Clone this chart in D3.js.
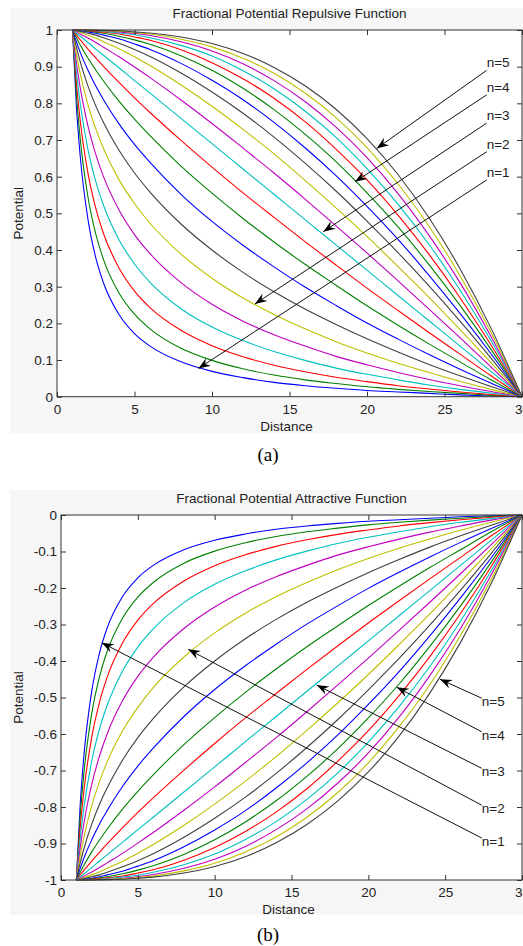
<!DOCTYPE html>
<html>
<head>
<meta charset="utf-8">
<script src="https://cdn.jsdelivr.net/npm/d3@7"></script>
<style>
  body { margin: 0; background: #fff; }
  .chart text { font-family: "Liberation Sans", Arial, sans-serif; fill: #222; }
</style>
</head>
<body>
<div class="chart"></div>
<script>
const distance = [1, 1.25, 1.5, 2, 2.5, 3, 4, 5, 6, 8, 10, 12, 14, 16, 18, 20, 22, 24, 26, 28, 30];

// fractional order of each curve (n = 1 ... 5, step 0.2)
const orders = [1, 1.2, 1.4, 1.6, 1.8, 2, 2.2, 2.4, 2.6, 2.8, 3, 3.2, 3.4, 3.6, 3.8, 4, 4.2, 4.4, 4.6, 4.8, 5];

// repulsive potential, one row per order
const potential = [
  [1, .793, .655, .483, .379, .310, .224, .172, .138, .095, .069, .052, .039, .030, .023, .017, .013, .009, .005, .002, 0],
  [1, .825, .703, .544, .444, .374, .283, .225, .185, .132, .099, .076, .059, .046, .036, .027, .020, .014, .009, .004, 0],
  [1, .856, .752, .609, .514, .445, .351, .288, .243, .181, .139, .109, .086, .068, .053, .041, .030, .021, .013, .006, 0],
  [1, .885, .799, .674, .587, .522, .428, .362, .312, .240, .190, .153, .123, .099, .078, .061, .046, .032, .020, .010, 0],
  [1, .912, .842, .738, .661, .600, .509, .442, .390, .311, .252, .206, .169, .138, .110, .087, .066, .047, .030, .014, 0],
  [1, .934, .881, .796, .731, .677, .592, .527, .473, .389, .323, .269, .224, .185, .150, .119, .091, .066, .042, .020, 0],
  [1, .953, .913, .847, .793, .748, .672, .610, .558, .471, .400, .339, .286, .239, .197, .158, .122, .088, .057, .028, 0],
  [1, .968, .939, .890, .847, .810, .744, .688, .639, .552, .478, .413, .354, .299, .249, .201, .157, .115, .075, .037, 0],
  [1, .979, .959, .923, .891, .861, .806, .757, .712, .629, .555, .486, .422, .361, .304, .248, .195, .144, .095, .046, 0],
  [1, .986, .973, .948, .924, .901, .857, .815, .775, .699, .626, .556, .489, .423, .359, .296, .235, .175, .116, .057, 0],
  [1, .991, .983, .966, .948, .931, .897, .862, .828, .759, .690, .621, .552, .483, .414, .345, .276, .207, .138, .069, 0],
  [1, .995, .989, .978, .966, .953, .927, .899, .870, .809, .745, .678, .610, .539, .466, .392, .316, .239, .161, .081, 0],
  [1, .997, .993, .986, .978, .968, .949, .927, .903, .850, .792, .729, .662, .590, .515, .437, .355, .271, .183, .093, 0],
  [1, .998, .996, .991, .986, .979, .964, .947, .928, .883, .831, .773, .708, .637, .561, .479, .393, .302, .206, .105, 0],
  [1, .999, .998, .995, .991, .986, .976, .962, .947, .909, .863, .810, .748, .679, .603, .519, .429, .331, .227, .117, 0],
  [1, .999, .999, .997, .994, .991, .983, .973, .961, .930, .890, .841, .783, .716, .641, .556, .463, .360, .249, .129, 0],
  [1, 1, .999, .998, .996, .994, .989, .981, .972, .946, .911, .867, .814, .750, .675, .591, .495, .388, .270, .141, 0],
  [1, 1, .999, .999, .998, .996, .992, .987, .979, .958, .929, .889, .840, .779, .707, .622, .525, .415, .291, .153, 0],
  [1, 1, 1, .999, .999, .998, .995, .991, .985, .968, .943, .908, .862, .805, .735, .652, .554, .440, .311, .164, 0],
  [1, 1, 1, 1, .999, .998, .997, .993, .989, .975, .954, .923, .882, .828, .761, .679, .580, .465, .330, .176, 0],
  [1, 1, 1, 1, .999, .999, .998, .995, .992, .981, .963, .936, .898, .848, .784, .704, .606, .488, .349, .187, 0]
];

// attractive panel is the same family mirrored below zero
const attractive = potential.map(row => row.map(v => -v));

const lineColors = ["#0000ff", "#008000", "#ff0000", "#00bfbf", "#bf00bf", "#bfbf00", "#404040"];

const xTicks = [0, 5, 10, 15, 20, 25, 30];
const xTickLabels = ["0", "5", "10", "15", "20", "25", "30"];
const yTicksRep = [0, 0.1, 0.2, 0.3, 0.4, 0.5, 0.6, 0.7, 0.8, 0.9, 1];
const yTickLabelsRep = ["0", "0.1", "0.2", "0.3", "0.4", "0.5", "0.6", "0.7", "0.8", "0.9", "1"];
const yTicksAtt = [0, -0.1, -0.2, -0.3, -0.4, -0.5, -0.6, -0.7, -0.8, -0.9, -1];
const yTickLabelsAtt = ["0", "-0.1", "-0.2", "-0.3", "-0.4", "-0.5", "-0.6", "-0.7", "-0.8", "-0.9", "-1"];

// arrow annotations, [distance, potential] for tail and tip
const arrowsRep = [
  {label: "n=5", from: [27.72, 0.890], to: [20.63, 0.677]},
  {label: "n=4", from: [27.72, 0.823], to: [19.23, 0.586]},
  {label: "n=3", from: [27.72, 0.746], to: [17.18, 0.450]},
  {label: "n=2", from: [27.72, 0.668], to: [12.77, 0.253]},
  {label: "n=1", from: [27.72, 0.591], to: [9.12, 0.077]}
];
const arrowsAtt = [
  {label: "n=5", from: [27.38, -0.502], to: [24.66, -0.450]},
  {label: "n=4", from: [27.38, -0.594], to: [21.85, -0.472]},
  {label: "n=3", from: [27.38, -0.694], to: [16.64, -0.466]},
  {label: "n=2", from: [27.38, -0.795], to: [8.28, -0.368]},
  {label: "n=1", from: [27.38, -0.885], to: [2.65, -0.350]}
];

const W = 523, H = 946;

let svg = d3.select(".chart").append("svg")
  .attr("width", W)
  .attr("height", H);

const panels = [
  {left: 57, right: 522, top: 30, bottom: 396.7, domain: [0, 1], values: potential,
   yTicks: yTicksRep, yLabels: yTickLabelsRep, arrows: arrowsRep, labelDy: -3,
   title: "Fractional Potential Repulsive Function", caption: "(a)",
   figTop: 8, figBottom: 433, capY: 461},
  {left: 61, right: 522, top: 515, bottom: 880, domain: [-1, 0], values: attractive,
   yTicks: yTicksAtt, yLabels: yTickLabelsAtt, arrows: arrowsAtt, labelDy: 8,
   title: "Fractional Potential Attractive Function", caption: "(b)",
   figTop: 490, figBottom: 915, capY: 941}
];

function drawPanel(p) {
  const xScale = d3.scaleLinear().domain([0, 30]).range([p.left, p.right]);
  const yScale = d3.scaleLinear().domain(p.domain).range([p.bottom, p.top]);

  // figure background
  svg.append("rect")
    .attr("x", 10).attr("y", p.figTop)
    .attr("width", W - 10).attr("height", p.figBottom - p.figTop)
    .attr("fill", "#f6f6f6");

  svg.append("rect")
    .attr("x", p.left).attr("y", p.top)
    .attr("width", p.right - p.left).attr("height", p.bottom - p.top)
    .attr("fill", "#fff");

  const line = d3.line()
    .x((d, i) => xScale(distance[i]))
    .y(d => yScale(d))
    .curve(d3.curveMonotoneX);

  svg.append("g")
    .selectAll("path")
    .data(p.values)
    .join("path")
    .attr("d", line)
    .attr("fill", "none")
    .attr("stroke", (d, i) => lineColors[i % lineColors.length])
    .attr("stroke-width", 1.1);

  // axes, ticks pointing inwards
  const axisStyle = g => {
    g.select(".domain").remove();
    g.selectAll("line").attr("stroke", "#333");
    g.selectAll("text").attr("font-size", "13.5px").attr("fill", "#222");
  };

  svg.append("g")
    .attr("transform", `translate(0, ${p.bottom})`)
    .call(d3.axisBottom(xScale).tickValues(xTicks).tickSizeInner(-5).tickSizeOuter(0)
      .tickPadding(7.5).tickFormat((d, i) => xTickLabels[i]))
    .call(axisStyle);

  svg.append("g")
    .attr("transform", `translate(0, ${p.top})`)
    .call(d3.axisTop(xScale).tickValues(xTicks).tickSizeInner(-5).tickSizeOuter(0).tickFormat(""))
    .call(axisStyle);

  svg.append("g")
    .attr("transform", `translate(${p.left}, 0)`)
    .call(d3.axisLeft(yScale).tickValues(p.yTicks).tickSizeInner(-5).tickSizeOuter(0)
      .tickPadding(4).tickFormat((d, i) => p.yLabels[i]))
    .call(axisStyle);

  svg.append("g")
    .attr("transform", `translate(${p.right}, 0)`)
    .call(d3.axisRight(yScale).tickValues(p.yTicks).tickSizeInner(-5).tickSizeOuter(0).tickFormat(""))
    .call(axisStyle);

  svg.append("rect")
    .attr("x", p.left).attr("y", p.top)
    .attr("width", p.right - p.left).attr("height", p.bottom - p.top)
    .attr("fill", "none")
    .attr("stroke", "#333")
    .attr("stroke-width", 1);

  // arrows + labels
  p.arrows.forEach(a => {
    const x0 = xScale(a.from[0]), y0 = yScale(a.from[1]);
    const x1 = xScale(a.to[0]), y1 = yScale(a.to[1]);
    const ang = Math.atan2(y1 - y0, x1 - x0) * 180 / Math.PI;

    svg.append("line")
      .attr("x1", x0).attr("y1", y0)
      .attr("x2", x1).attr("y2", y1)
      .attr("stroke", "#111")
      .attr("stroke-width", 1);

    svg.append("path")
      .attr("d", "M0,0L-12,-4.5L-8,0L-12,4.5Z")
      .attr("transform", `translate(${x1},${y1}) rotate(${ang})`)
      .attr("fill", "#000");

    svg.append("text")
      .attr("x", x0)
      .attr("y", y0 + p.labelDy)
      .attr("font-size", "13.5px")
      .text(a.label);
  });

  const cx = (p.left + p.right) / 2;

  svg.append("text")
    .attr("x", cx)
    .attr("y", p.top - 12)
    .attr("text-anchor", "middle")
    .attr("font-size", "13.5px")
    .text(p.title);

  svg.append("text")
    .attr("x", cx - 3)
    .attr("y", p.bottom + 34)
    .attr("text-anchor", "middle")
    .attr("font-size", "13.5px")
    .text("Distance");

  svg.append("text")
    .attr("transform", `translate(23, ${(p.top + p.bottom) / 2}) rotate(-90)`)
    .attr("text-anchor", "middle")
    .attr("font-size", "13.5px")
    .text("Potential");

  svg.append("text")
    .attr("x", 268)
    .attr("y", p.capY)
    .attr("text-anchor", "middle")
    .attr("font-size", "19px")
    .style("font-family", "'Liberation Serif', 'Times New Roman', serif")
    .style("fill", "#000")
    .text(p.caption);
}

panels.forEach(drawPanel);
</script>
</body>
</html>
